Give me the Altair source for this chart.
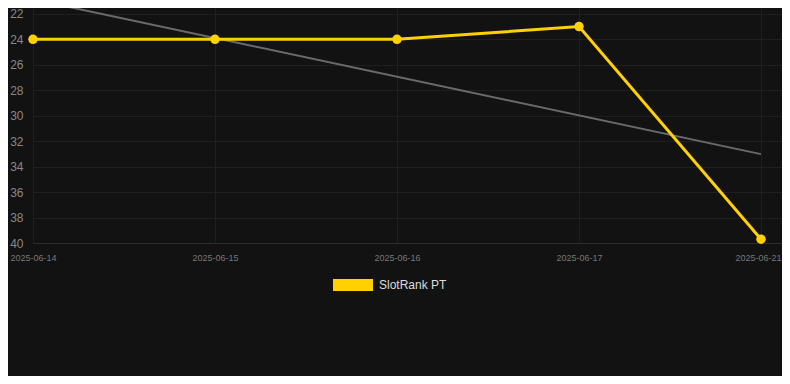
import altair as alt
import pandas as pd

dates = ["2025-06-14", "2025-06-15", "2025-06-16", "2025-06-17", "2025-06-21"]
ranks = [24, 24, 24, 23, 39.7]
series_name = "SlotRank PT"

df = pd.DataFrame({"idx": list(range(len(dates))), "date": dates, "rank": ranks, "series": series_name})

label_expr = "[" + ",".join(f"'{d}'" for d in dates) + "][datum.value]"

x = alt.X("idx:Q",
          scale=alt.Scale(domain=[0, 749 / 182], nice=False, zero=False),
          axis=alt.Axis(values=list(range(len(dates))), labelExpr=label_expr, title=None,
                        ticks=False, labelPadding=10, labelFontSize=9, labelColor="#777777",
                        labelFont="Liberation Sans", gridColor="#1f1f1f", domainColor="#2c2c2c",
                        labelAlign="center",
                        labelOffset={"condition": {"test": "datum.value == 4", "value": -3}, "value": 0}))
y = alt.Y("rank:Q",
          scale=alt.Scale(domain=[21.54, 40], reverse=True, nice=False, zero=False),
          axis=alt.Axis(values=list(range(22, 41, 2)), title=None, ticks=False, labelPadding=10,
                        labelFontSize=12, labelColor="#888888", labelFont="Liberation Sans",
                        gridColor="#1f1f1f", domain=False))

base = alt.Chart(df)

trend = base.transform_regression("idx", "rank", extent=[0, 4]).mark_line(
    color="#6a6a6a", strokeWidth=2, clip=True).encode(x=x, y=y)

color = alt.Color("series:N", scale=alt.Scale(domain=[series_name], range=["#FFD100"]),
                  legend=alt.Legend(title=None, orient="none", legendX=300, legendY=257,
                                    symbolType="M-1,-0.3H1V0.3H-1Z", symbolSize=1600,
                                    symbolStrokeWidth=0, symbolFillColor="#FFD100",
                                    labelColor="#dddddd", labelFontSize=12,
                                    labelFont="Liberation Sans", labelOffset=6, padding=0))

line = base.mark_line(strokeWidth=3, clip=True).encode(x=x, y=y, color=color)
pts = base.mark_circle(size=90, opacity=1).encode(x=x, y=y, color=alt.Color("series:N", legend=None,
                                 scale=alt.Scale(domain=[series_name], range=["#FFD100"])))

chart = alt.layer(trend, line, pts).properties(
    width=749, height=235,
    background="#121212",
    padding={"left": 25, "top": 0, "right": 0, "bottom": 133},
    autosize=alt.AutoSizeParams(type="none"),
).configure_view(stroke=None)

chart.save("out.html", embed_options={"renderer": "svg", "actions": False})
